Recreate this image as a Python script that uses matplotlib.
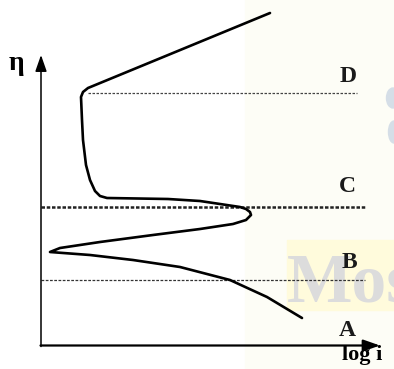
# Schematic anodic polarisation curve (active / passive / transpassive)
import numpy as np
import matplotlib.pyplot as plt
from matplotlib.patches import Rectangle, Ellipse

# curve points, (log i, eta) in arbitrary units
log_i = [26.1, 22.6, 18.9, 13.9, 9.2, 4.9, 0.9,
         1.9, 5.9, 11.2, 15.9, 19.2, 20.5, 21.0, 20.9, 20.5, 19.9, 17.9, 15.9, 12.7,
         6.6, 5.9, 5.4, 4.9, 4.5, 4.2, 4.1, 4.0, 4.2, 4.7, 22.9]
eta = [2.8, 4.9, 6.6, 7.9, 8.6, 9.1, 9.4,
       9.8, 10.4, 11.1, 11.7, 12.2, 12.6, 13.1, 13.4, 13.7, 13.9, 14.2, 14.5, 14.7,
       14.8, 15.0, 15.5, 16.6, 18.1, 20.6, 22.6, 24.9, 25.4, 25.8, 33.3]

# reference potentials and their labels
level_names = ["B", "C", "D"]
level_eta = [6.6, 13.9, 25.3]
level_start = [0.0, 0.0, 4.7]
level_end = [32.4, 32.4, 31.6]
label_pos = {"A": (30.6, 1.5), "B": (30.8, 8.3), "C": (30.6, 15.9), "D": (30.7, 27.0)}

fig = plt.figure(figsize=(3.94, 3.69), dpi=100)
ax = fig.add_axes([0, 0, 1, 1])
ax.set_xlim(-4.1, 35.3)
ax.set_ylim(-2.3, 34.6)
ax.axis("off")

serif = ["Liberation Serif", "DejaVu Serif"]

# faint watermark from the scanned source
ax.add_patch(Rectangle((20.4, -2.3), 15.0, 36.9, color="#fdfdf6", zorder=0))
ax.add_patch(Rectangle((24.6, 3.6), 10.8, 7.0, color="#fffbdc", zorder=0))
ax.text(24.6, 4.4, "Mos", fontsize=50, fontweight="bold", family=serif,
        color="#dcdcdc", ha="left", va="baseline", zorder=0.5, clip_on=True)
ax.add_patch(Ellipse((35.2, 24.8), 1.3, 2.0, color="#d5dee7", zorder=0.5))
ax.add_patch(Ellipse((35.3, 21.4), 1.1, 2.2, color="#d5dee7", zorder=0.5))

# axes drawn as arrows
ax.annotate("", xy=(0, 29.1), xytext=(0, -0.05),
            arrowprops=dict(arrowstyle="-|>,head_length=1.0,head_width=0.35",
                            lw=1.1, color="black", shrinkA=0, shrinkB=0))
ax.annotate("", xy=(33.9, 0.05), xytext=(-0.05, 0.05),
            arrowprops=dict(arrowstyle="-|>,head_length=1.0,head_width=0.35",
                            lw=1.6, color="black", shrinkA=0, shrinkB=0))

# dotted potential levels
styles = {"B": dict(lw=0.9, ls=(0, (2.2, 1.2)), color="#333333"),
          "C": dict(lw=1.8, ls=(0, (1.4, 0.7)), color="#222222"),
          "D": dict(lw=0.9, ls=(0, (2.0, 1.2)), color="#444444")}
for name, y, x0, x1 in zip(level_names, level_eta, level_start, level_end):
    ax.plot([x0, x1], [y, y], **styles[name], zorder=2)

# polarisation curve
ax.plot(log_i, eta, color="black", lw=1.9, solid_joinstyle="round",
        solid_capstyle="round", zorder=3)

for name, (x, y) in label_pos.items():
    ax.text(x, y, name, fontsize=17, fontweight="bold", family=serif,
            ha="center", va="center", color="#1a1a1a", zorder=4)

ax.text(-2.5, 28.3, "η", fontsize=20, fontweight="bold", family=serif,
        ha="center", va="center")
ax.text(32.1, -0.9, "log i", fontsize=16, fontweight="bold", family=serif,
        ha="center", va="center")

fig.savefig("out.png", dpi=100)
